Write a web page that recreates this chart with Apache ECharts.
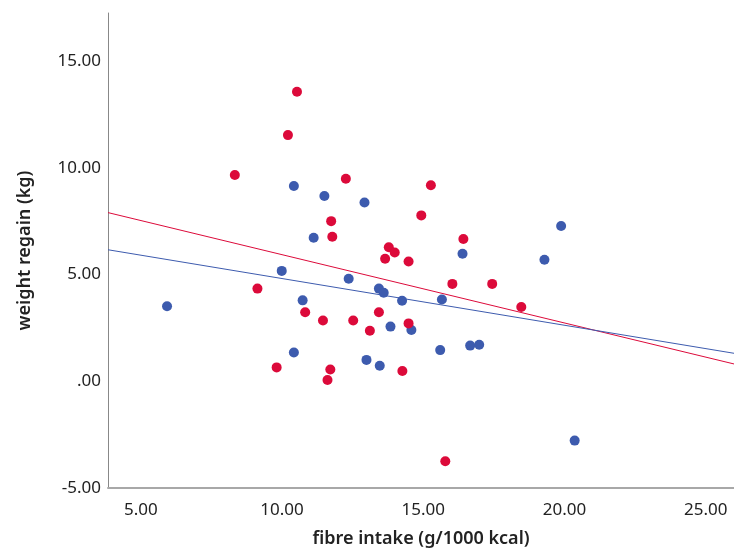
<!DOCTYPE html>
<html>
<head>
<meta charset="utf-8">
<script src="https://cdn.jsdelivr.net/npm/echarts@6/dist/echarts.min.js"></script>
<style>
  html, body { margin: 0; padding: 0; background: #fff; }
  #chart { width: 734px; height: 551px; }
</style>
</head>
<body>
<div id="chart"></div>
<script>
// 红组散点 [纤维摄入, 体重反弹]
const redPoints = [
  [10.53, 13.56], [10.21, 11.53], [8.33, 9.66], [12.26, 9.49], [11.74, 7.50],
  [11.78, 6.77], [13.78, 6.28], [13.99, 6.03], [13.65, 5.74], [14.48, 5.61],
  [14.93, 7.77], [15.27, 9.18], [16.42, 6.66], [16.03, 4.56], [17.44, 4.56],
  [18.47, 3.48], [9.13, 4.34], [10.82, 3.23], [13.43, 3.23], [11.45, 2.85],
  [12.52, 2.85], [13.11, 2.37], [14.48, 2.71], [9.81, 0.65], [11.71, 0.55],
  [11.61, 0.06], [14.26, 0.48], [15.78, -3.75]
];
// 蓝组散点
const bluePoints = [
  [10.42, 9.15], [11.50, 8.68], [12.92, 8.37], [11.12, 6.72], [19.88, 7.27],
  [9.99, 5.17], [12.36, 4.80], [13.43, 4.34], [13.60, 4.15], [10.73, 3.79],
  [14.25, 3.77], [5.93, 3.51], [13.84, 2.56], [14.58, 2.40], [10.42, 1.35],
  [12.99, 1.00], [13.46, 0.73], [16.39, 5.97], [19.29, 5.69], [15.66, 3.83],
  [15.60, 1.46], [16.66, 1.67], [16.98, 1.71], [20.36, -2.78]
];
// 拟合线端点
const redFit = [[3.84, 7.90], [26.0, 0.81]];
const blueFit = [[3.84, 6.16], [26.0, 1.31]];

const RED = "#dc0a3a";
const BLUE = "#3d5bae";
const FONT = "Noto Sans";

//格式化刻度
const fmt = (v) => {
  const s = Number(v).toFixed(2);
  return s.replace(/^0\./, ".").replace(/^-0\./, "-.");
};

const chart = echarts.init(document.getElementById("chart"));
chart.setOption({
  animation: false,
  grid: { left: 108, right: 0, top: 13, bottom: 63, outerBoundsMode: "none", containLabel: false },
  xAxis: {
    type: "value",
    min: 3.84,
    max: 26,
    interval: 5,
    splitLine: { show: false },
    axisTick: { show: false },
    axisLine: { onZero: false, lineStyle: { color: "#a8a8a8", width: 2 } },
    axisLabel: {
      color: "#222",
      fontFamily: FONT,
      fontSize: 17,
      margin: 14,
      formatter: fmt,
      customValues: [5, 10, 15, 20, 25],
    },
    name: "fibre intake (g/1000 kcal)",
    nameLocation: "middle",
    nameGap: 42,
    nameTextStyle: { color: "#222", fontFamily: FONT, fontSize: 18, fontWeight: 600 },
  },
  yAxis: {
    type: "value",
    min: -5,
    max: 17.25,
    interval: 5,
    splitLine: { show: false },
    axisTick: { show: false },
    axisLine: { show: true, onZero: false, lineStyle: { color: "#888", width: 1 } },
    axisLabel: {
      color: "#222",
      fontFamily: FONT,
      fontSize: 17,
      margin: 7,
      padding: [3, 0, 0, 0],
      formatter: fmt,
      showMaxLabel: false,
    },
    name: "weight regain (kg)",
    nameLocation: "middle",
    nameGap: 74,
    nameTextStyle: { color: "#222", fontFamily: FONT, fontSize: 18, fontWeight: 600 },
  },
  series: [
    {
      type: "line",
      data: redFit,
      symbol: "none",
      lineStyle: { color: RED, width: 1 },
      z: 1,
    },
    {
      type: "line",
      data: blueFit,
      symbol: "none",
      lineStyle: { color: BLUE, width: 1 },
      z: 1,
    },
    {
      type: "scatter",
      data: bluePoints,
      symbolSize: 10,
      itemStyle: { color: BLUE, opacity: 1 },
      z: 2,
    },
    {
      type: "scatter",
      data: redPoints,
      symbolSize: 10,
      itemStyle: { color: RED, opacity: 1 },
      z: 3,
    },
  ],
});
</script>
</body>
</html>
